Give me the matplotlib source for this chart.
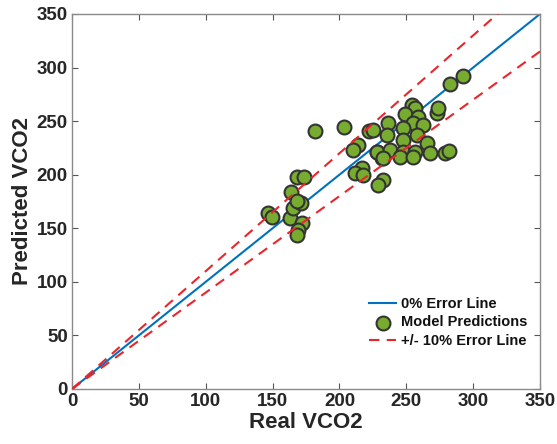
import matplotlib
matplotlib.use("Agg")
import matplotlib.pyplot as plt
import numpy as np

plt.rcParams['font.family'] = ['Liberation Sans', 'DejaVu Sans']
plt.rcParams['font.weight'] = 'bold'

real_vco2 = [146.8, 149.4, 163.0, 163.8, 165.5, 168.0, 171.3, 168.0, 173.7, 171.8, 169.3, 168.0,
             181.7, 203.4, 222.4, 214.0, 210.4, 228.0, 231.6, 216.7, 211.7, 217.9, 232.8, 229.0,
             254.0, 256.5, 249.0, 259.0, 272.7, 274.0, 236.6, 255.0, 262.8, 247.8, 225.0, 235.4,
             257.8, 247.8, 265.3, 228.4, 237.8, 247.8, 256.5, 267.8, 279.0, 282.0, 232.8, 245.3,
             255.3, 282.7, 292.7]
pred_vco2 = [164.0, 160.2, 159.4, 183.6, 168.7, 198.2, 173.3, 175.0, 197.6, 154.6, 148.5, 143.8,
             241.0, 244.8, 241.0, 227.8, 223.0, 221.6, 215.4, 206.0, 201.3, 199.8, 195.0, 190.5,
             265.0, 262.0, 256.7, 254.0, 258.0, 262.0, 248.0, 248.0, 246.5, 244.0, 241.8, 237.0,
             237.0, 232.5, 229.3, 221.6, 223.0, 221.6, 221.6, 220.0, 220.0, 222.0, 215.4, 216.9,
             216.9, 284.8, 292.0]
line_x = [0, 350]
err_pct = 10
x_ticks = [0, 50, 100, 150, 200, 250, 300, 350]
y_ticks = [0, 50, 100, 150, 200, 250, 300, 350]

fig = plt.figure(figsize=(5.57, 4.44), dpi=100)
ax = fig.add_axes([0.1293, 0.1239, 0.8402, 0.8446])

lx = np.array(line_x, dtype=float)
ax.plot(lx, lx, color='#0072BD', lw=1.5, label='0% Error Line', zorder=2)
ax.scatter(real_vco2, pred_vco2, s=100, facecolor='#77AC30', edgecolor='#333333',
           linewidth=1.5, label='Model Predictions', zorder=3)
ax.plot(lx, lx * (1 + err_pct / 100), color='#E8262C', lw=1.5, ls=(0, (5, 3.5)),
        label='+/- 10% Error Line', zorder=4)
ax.plot(lx, lx * (1 - err_pct / 100), color='#E8262C', lw=1.5, ls=(0, (5, 3.5)), zorder=4)

ax.set_xlim(0, 350)
ax.set_ylim(0, 350)
ax.set_xticks(x_ticks)
ax.set_yticks(y_ticks)
ax.tick_params(direction='in', top=True, right=True, length=4, width=0.8,
               colors='#555555', labelsize=13.5, labelcolor='#262626', pad=3)
for s in ax.spines.values():
    s.set_color('#8a8a8a')
    s.set_linewidth(1.0)
for lab in ax.get_xticklabels() + ax.get_yticklabels():
    lab.set_fontweight('bold')

ax.set_xlabel('Real VCO2', fontsize=16, fontweight='bold', color='#262626', labelpad=1)
ax.set_ylabel('Predicted VCO2', fontsize=16, fontweight='bold', color='#262626', labelpad=3)

leg = ax.legend(loc='lower right', bbox_to_anchor=(1.0, 0.075), frameon=False,
                prop={'weight': 'bold', 'size': 10.5}, handlelength=1.85,
                handletextpad=0.3, labelspacing=0.3)
for t in leg.get_texts():
    t.set_color('#111111')

fig.savefig('out.png', dpi=100)
